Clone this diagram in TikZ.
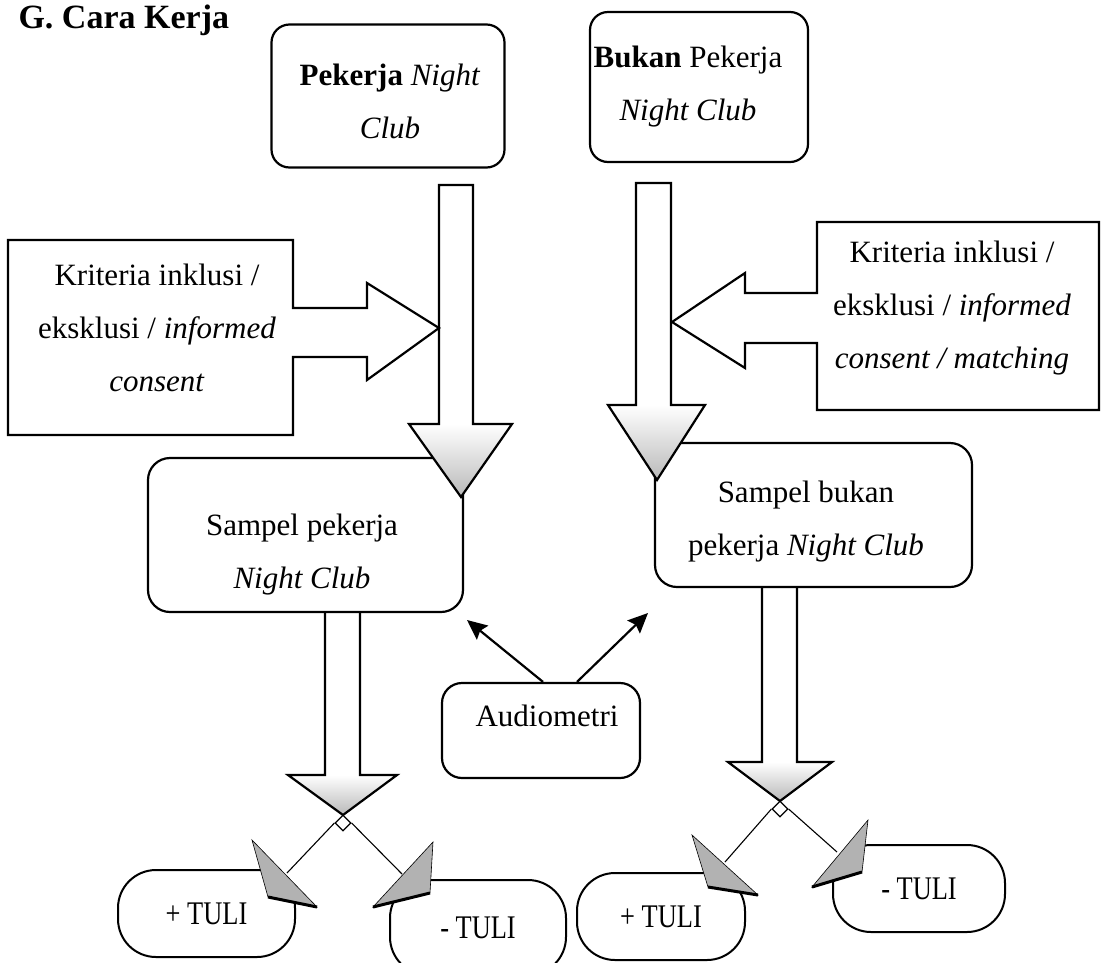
\documentclass[tikz,border=0pt]{standalone}
\usepackage{fontspec}
\setmainfont{Liberation Serif}
\usetikzlibrary{arrows.meta,shapes.geometric}

\begin{document}
\begin{tikzpicture}[x=1pt, y=-1pt]
  \tikzset{
    box/.style={draw, line width=2.2pt, rounded corners=18pt},
    pill/.style={draw, line width=2pt, rounded corners=38pt, font=\fontsize{33}{35}\selectfont},
    txt/.style={align=center, font=\fontsize{31}{53}\selectfont},
    outline/.style={draw, line width=2.2pt, line join=miter},
    bighead/.style={top color=white, bottom color=gray!55},
    tiphead/.style={fill=gray!60, draw, line width=0.6pt},
    tipedge/.style={line width=3pt},
    split/.style={draw, diamond, fill=white, line width=1.2pt, minimum size=16pt, inner sep=0pt},
    thinline/.style={line width=1.1pt},
    link/.style={line width=2.2pt, -{Stealth[length=20pt, width=18pt, inset=3pt]}}
  }
  \useasboundingbox (0,0) rectangle (1103,962);
  \clip (0,0) rectangle (1103,962);

  \node[anchor=base west, font=\fontsize{34}{38}\selectfont\bfseries] (title) at (15,28) {G. Cara Kerja};

  \node[box, minimum width=233, minimum height=143] (pekerja) at (388,96) {};
  \node[txt] (pekerja-t) at (390,101) {\textbf{Pekerja} \textit{Night}\\\textit{Club}};
  \node[box, minimum width=218, minimum height=150] (bukan) at (699,87) {};
  \node[txt] (bukan-t) at (688,87) {\textbf{Bukan} Pekerja\\\textit{Night Club}};

  \node[box, rounded corners=22pt, minimum width=315, minimum height=154] (sampelP) at (305.5,535) {};
  \node[txt] (sampelP-t) at (302,555) {Sampel pekerja\\\textit{Night Club}};
  \node[box, rounded corners=22pt, minimum width=317, minimum height=144] (sampelB) at (813.5,515) {};
  \node[txt] (sampelB-t) at (806,522) {Sampel bukan\\pekerja \textit{Night Club}};

  \node[box, rounded corners=20pt, minimum width=198, minimum height=95] (audio) at (541,730.5) {};
  \node[txt] (audio-t) at (547,716) {Audiometri};

  \node[pill, minimum width=177, minimum height=87] (plusL) at (206.5,913.5) {\scalebox{0.8}[1]{+ TULI}};
  \node[pill, minimum width=176, minimum height=95] (minusL) at (478,927.5) {\scalebox{0.8}[1]{- TULI}};
  \node[pill, minimum width=168, minimum height=87] (plusR) at (661,916.5) {\scalebox{0.8}[1]{+ TULI}};
  \node[pill, minimum width=172, minimum height=87] (minusR) at (919,888.5) {\scalebox{0.8}[1]{- TULI}};

  \draw[outline, fill=white] (8,240) -- (293,240) -- (293,308) -- (367,308) -- (367,283) -- (439,328)
    -- (367,380) -- (367,357) -- (293,357) -- (293,435) -- (8,435) -- cycle;
  \node[txt] (kritL) at (157,328) {Kriteria inklusi /\\eksklusi / \textit{informed}\\\textit{consent}};
  \draw[outline, fill=white] (1099,222) -- (817,222) -- (817,293) -- (745,293) -- (745,273) -- (672,322)
    -- (745,368) -- (745,343) -- (817,343) -- (817,410) -- (1099,410) -- cycle;
  \node[txt] (kritR) at (952,308) {Kriteria inklusi /\\eksklusi / \textit{informed}\\\textit{consent / matching}};

  \path[bighead] (409,424) -- (512,424) -- (461,497) -- cycle;
  \draw[outline] (439,185) -- (473,185) -- (473,424) -- (512,424) -- (461,497) -- (409,424) -- (439,424) -- cycle;
  \path[bighead] (608,405) -- (705,405) -- (657,480) -- cycle;
  \draw[outline] (636,183) -- (671,183) -- (671,405) -- (705,405) -- (657,480) -- (608,405) -- (636,405) -- cycle;

  \path[bighead] (288,775) -- (397,775) -- (343,815) -- cycle;
  \draw[outline] (325,0 |- sampelP.south) -- (325,775) -- (288,775) -- (343,815) -- (397,775) -- (360,775) -- (360,0 |- sampelP.south);
  \path[bighead] (728,762) -- (832,762) -- (780,801) -- cycle;
  \draw[outline] (762,0 |- sampelB.south) -- (762,762) -- (728,762) -- (780,801) -- (832,762) -- (797,762) -- (797,0 |- sampelB.south);

  \node[split] (splitL) at (343,823) {};
  \node[split] (splitR) at (780,809) {};
  \coordinate (toPlusL) at (287,873);
  \coordinate (toMinusL) at (402,874);
  \coordinate (toPlusR) at (725,862);
  \coordinate (toMinusR) at (837,852);
  \draw[thinline] (splitL.west) -- (toPlusL);
  \draw[thinline] (splitL.east) -- (toMinusL);
  \draw[thinline] (splitR.west) -- (toPlusR);
  \draw[thinline] (splitR.east) -- (toMinusR);

  \draw[tiphead] (252,840) -- (317,907) -- (268,897) -- cycle;
  \draw[tipedge] (268,897) -- (317,907);
  \draw[tiphead] (433,842) -- (430,893) -- (373,907) -- cycle;
  \draw[tipedge] (373,907) -- (430,893);
  \draw[tiphead] (692,835) -- (758,895) -- (708,887) -- cycle;
  \draw[tipedge] (708,887) -- (758,895);
  \draw[tiphead] (868,820) -- (862,872) -- (812,887) -- cycle;
  \draw[tipedge] (812,887) -- (862,872);

  \coordinate (toSampelP) at (467,620);
  \coordinate (toSampelB) at (648,613);
  \draw[link] ([xshift=2pt]audio.north) -- (toSampelP);
  \draw[link] ([xshift=36pt]audio.north) -- (toSampelB);
\end{tikzpicture}
\end{document}
